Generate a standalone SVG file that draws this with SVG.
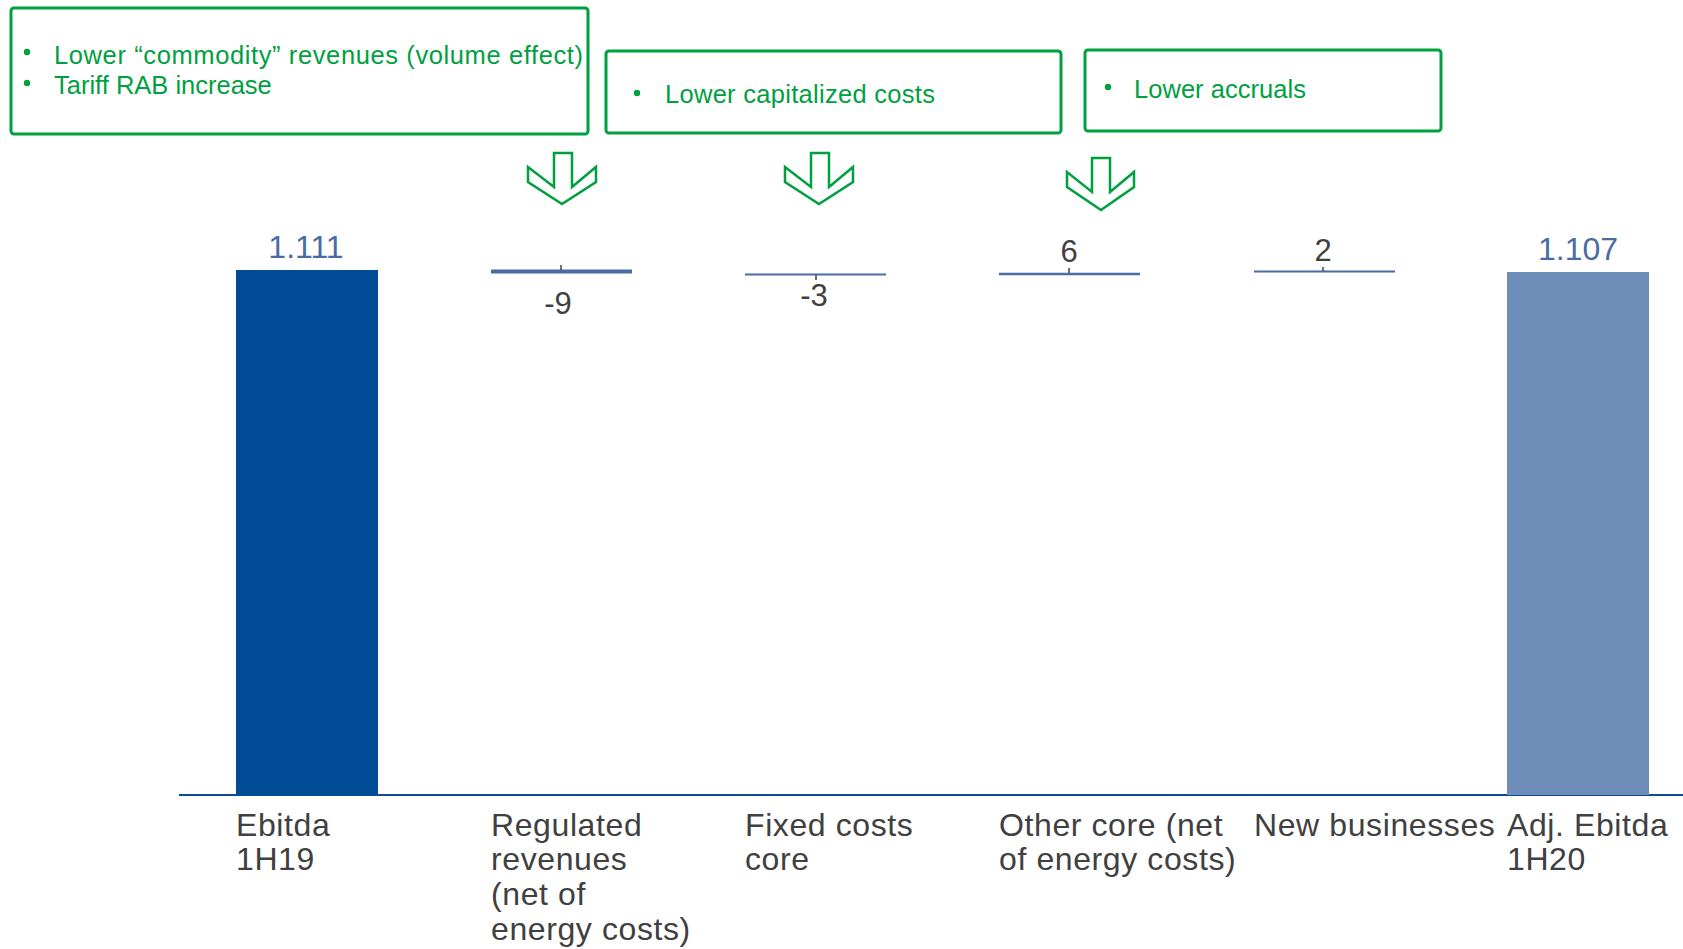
<svg xmlns="http://www.w3.org/2000/svg" width="1683" height="949" viewBox="0 0 1683 949">
<style>
.note{fill:none;stroke:#00A041;stroke-width:3}
.nt{font-family:"Liberation Sans",Arial,sans-serif;font-size:25.5px;fill:#00A041}
.arrow{fill:#fff;stroke:#00A041;stroke-width:2.5;stroke-linejoin:miter}
.val{font-family:"Liberation Sans",Arial,sans-serif;font-size:31px;fill:#404040;text-anchor:middle}
.tot{fill:#4A6CA3;font-size:32px}
.cat{font-family:"Liberation Sans",Arial,sans-serif;font-size:32px;letter-spacing:0.6px;fill:#404040}
.flt{stroke:#4A6CA3}
.tick{stroke:#404040;stroke-width:1.5}
</style>
<g id="note1">
<rect class="note" x="11" y="8" width="577" height="126" rx="3"/>
<circle cx="27" cy="52" r="3.2" fill="#00A041"/>
<text class="nt" x="54" y="64" textLength="529">Lower “commodity” revenues (volume effect)</text>
<circle cx="27" cy="83" r="3.2" fill="#00A041"/>
<text class="nt" x="54" y="94">Tariff RAB increase</text>
</g>
<g id="note2">
<rect class="note" x="606" y="51" width="455" height="82" rx="3"/>
<circle cx="637" cy="93" r="3.2" fill="#00A041"/>
<text class="nt" x="665" y="103" textLength="270">Lower capitalized costs</text>
</g>
<g id="note3">
<rect class="note" x="1085" y="50" width="356" height="81" rx="3"/>
<circle cx="1108" cy="87" r="3.2" fill="#00A041"/>
<text class="nt" x="1134" y="98" textLength="172">Lower accruals</text>
</g>
<g id="arrows">
<polygon class="arrow" points="554,153 572,153 572,187 596,167 596,182 562,204 528,182 528,167 554,187"/>
<polygon class="arrow" points="811,153 829,153 829,187 853,167 853,182 819,204 785,182 785,167 811,187"/>
<polygon class="arrow" points="1092,158 1110,158 1110,192 1134,172 1134,187 1101,210 1067,187 1067,172 1092,192"/>
</g>
<g id="axis">
<line x1="179" y1="795" x2="1683" y2="795" stroke="#0A4C97" stroke-width="2"/>
</g>
<g id="bar-ebitda-1h19">
<rect x="236" y="270" width="142" height="525" fill="#004B96"/>
<text class="val tot" x="306" y="258">1.111</text>
<text class="cat" x="236" y="836">Ebitda</text>
<text class="cat" x="236" y="870">1H19</text>
</g>
<g id="bar-regulated">
<line class="flt" x1="491" y1="271.5" x2="632" y2="271.5" stroke-width="4"/>
<line class="tick" x1="561" y1="265" x2="561" y2="270"/>
<text class="val" x="558" y="314">-9</text>
<text class="cat" x="491" y="836">Regulated</text>
<text class="cat" x="491" y="870">revenues</text>
<text class="cat" x="491" y="905">(net of</text>
<text class="cat" x="491" y="940">energy costs)</text>
</g>
<g id="bar-fixed">
<line class="flt" x1="745" y1="274.5" x2="886" y2="274.5" stroke-width="2"/>
<line class="tick" x1="816" y1="275" x2="816" y2="280"/>
<text class="val" x="814" y="306">-3</text>
<text class="cat" x="745" y="836">Fixed costs</text>
<text class="cat" x="745" y="870">core</text>
</g>
<g id="bar-other">
<line class="flt" x1="999" y1="274" x2="1140" y2="274" stroke-width="2.5"/>
<line class="tick" x1="1069" y1="268" x2="1069" y2="273"/>
<text class="val" x="1069" y="262">6</text>
<text class="cat" x="999" y="836">Other core (net</text>
<text class="cat" x="999" y="870">of energy costs)</text>
</g>
<g id="bar-new">
<line class="flt" x1="1254" y1="271.5" x2="1395" y2="271.5" stroke-width="2"/>
<line class="tick" x1="1323" y1="267" x2="1323" y2="271"/>
<text class="val" x="1323" y="261">2</text>
<text class="cat" x="1254" y="836">New businesses</text>
</g>
<g id="bar-adj-ebitda-1h20">
<rect x="1507" y="272" width="142" height="523" fill="#6E8DB8"/>
<text class="val tot" x="1578" y="260">1.107</text>
<text class="cat" x="1507" y="836">Adj. Ebitda</text>
<text class="cat" x="1507" y="870">1H20</text>
</g>
</svg>
